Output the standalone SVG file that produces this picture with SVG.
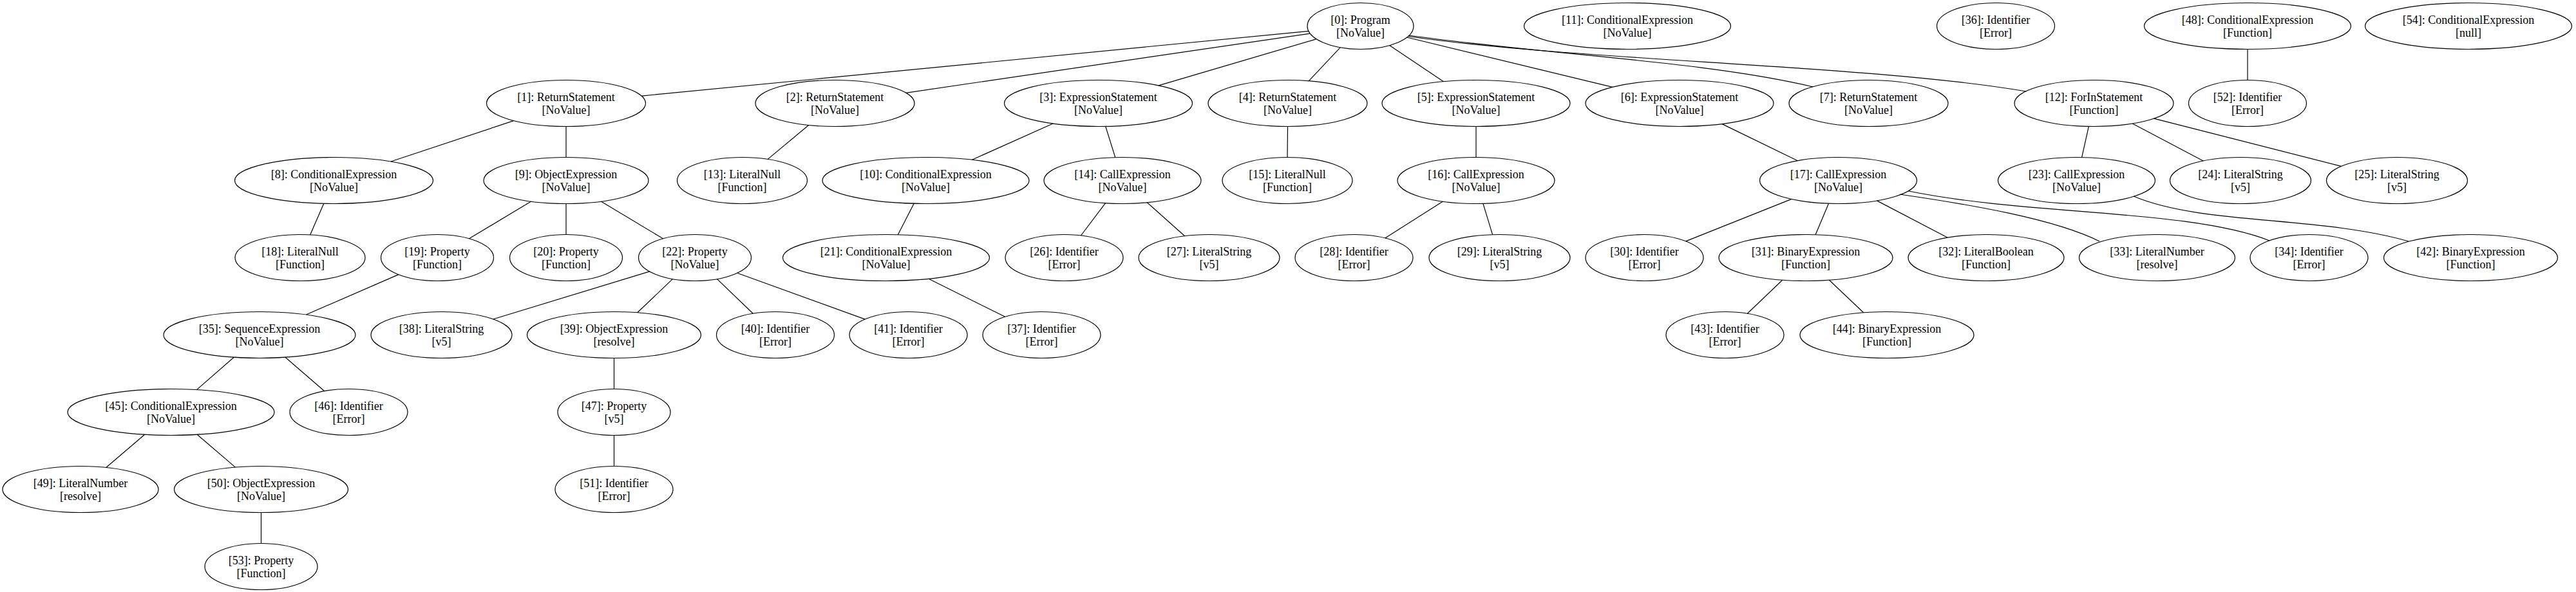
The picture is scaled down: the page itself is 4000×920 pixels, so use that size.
<svg xmlns="http://www.w3.org/2000/svg" width="4000" height="920" viewBox="0 0 4000 920">
<style>
.n ellipse{fill:none;stroke:#000;stroke-width:1.2}
.n text{font-family:"Liberation Serif","Times New Roman",serif;font-size:18px;text-anchor:middle;fill:#000}
#edges line,#edges path{stroke:#000;stroke-width:1.2;fill:none}
</style>
<rect width="4000" height="920" fill="#fff"/>
<g id="edges">
<line x1="2032" y1="48.3" x2="996.2" y2="149.1"/>
<line x1="2034.3" y1="52" x2="1406.8" y2="144.3"/>
<line x1="2044.1" y1="60.7" x2="1799.2" y2="132.9"/>
<line x1="2081.1" y1="73.8" x2="2032.2" y2="125.8"/>
<line x1="2157.6" y1="70.6" x2="2241.5" y2="126.7"/>
<line x1="2184.6" y1="58" x2="2503.8" y2="135.3"/>
<path d="M2188,55 C2400,85 2650,95 2815,135"/>
<path d="M2187,56.5 C2450,95 2900,100 3146,142"/>
<line x1="797.6" y1="187.6" x2="607" y2="251"/>
<line x1="879" y1="196.5" x2="879" y2="244.5"/>
<line x1="1255.7" y1="194.5" x2="1192.2" y2="247.4"/>
<line x1="1635.1" y1="192" x2="1509.4" y2="248.3"/>
<line x1="1716.7" y1="196.4" x2="1731.8" y2="244.7"/>
<line x1="1999.5" y1="196.5" x2="1999" y2="244.5"/>
<line x1="2292" y1="196.5" x2="2292" y2="244.5"/>
<line x1="2674" y1="192.6" x2="2791.3" y2="249.7"/>
<line x1="3243.4" y1="196.4" x2="3232.6" y2="244.6"/>
<line x1="3311.2" y1="192" x2="3421.1" y2="250"/>
<line x1="3344.4" y1="184.2" x2="3635.5" y2="258.4"/>
<line x1="502.8" y1="316.3" x2="481.6" y2="364.9"/>
<line x1="824.7" y1="313.1" x2="728.5" y2="370.8"/>
<line x1="879" y1="316.5" x2="879" y2="364.5"/>
<line x1="933.3" y1="313.1" x2="1029.5" y2="370.8"/>
<line x1="1419.2" y1="316.3" x2="1394.3" y2="364.7"/>
<line x1="1716.5" y1="315.6" x2="1678.5" y2="366"/>
<line x1="1781.3" y1="314.7" x2="1839.6" y2="366.7"/>
<line x1="2240.5" y1="313.1" x2="2150.8" y2="369.9"/>
<line x1="2302.9" y1="316.4" x2="2317.6" y2="364.7"/>
<line x1="2781.9" y1="309.4" x2="2617.8" y2="374.9"/>
<line x1="2839.5" y1="316.2" x2="2819.1" y2="364.7"/>
<line x1="2914.5" y1="311.9" x2="3024.2" y2="369.2"/>
<path d="M2950,302 C3060,318 3190,340 3260,375"/>
<path d="M2964,297 C3150,335 3400,325 3524,374"/>
<path d="M3313,305 C3420,350 3600,335 3740,375"/>
<line x1="2767.7" y1="435.2" x2="2713.3" y2="487.2"/>
<line x1="2840.4" y1="435.2" x2="2893.6" y2="485.8"/>
<line x1="618.9" y1="426.6" x2="475.4" y2="489"/>
<line x1="1008.7" y1="421.9" x2="765.8" y2="496"/>
<line x1="1044.4" y1="433.6" x2="989.8" y2="485.8"/>
<line x1="1113.5" y1="433.6" x2="1169.3" y2="487.2"/>
<line x1="1144.7" y1="424.3" x2="1343.2" y2="496.1"/>
<line x1="1442" y1="433.3" x2="1560.7" y2="492.3"/>
<line x1="363.2" y1="555.2" x2="305.5" y2="605.6"/>
<line x1="443" y1="555.2" x2="503.7" y2="607.7"/>
<line x1="953.5" y1="556.5" x2="953.5" y2="604.5"/>
<line x1="224.7" y1="675.3" x2="164.8" y2="726.5"/>
<line x1="306.1" y1="675.3" x2="365.4" y2="726.1"/>
<line x1="953.5" y1="676.5" x2="953.5" y2="724.5"/>
<line x1="405.5" y1="796.5" x2="405.5" y2="844.5"/>
<line x1="3490" y1="76.5" x2="3490" y2="124.5"/>
</g>
<g id="n0" class="n"><ellipse cx="2112.5" cy="40.5" rx="82.5" ry="36"/><text x="2112.5" y="37">[0]: Program</text><text x="2112.5" y="56.5">[NoValue]</text></g>
<g id="n11" class="n"><ellipse cx="2527" cy="40.5" rx="160.5" ry="36"/><text x="2527" y="37">[11]: ConditionalExpression</text><text x="2527" y="56.5">[NoValue]</text></g>
<g id="n36" class="n"><ellipse cx="3099" cy="40.5" rx="91.5" ry="36"/><text x="3099" y="37">[36]: Identifier</text><text x="3099" y="56.5">[Error]</text></g>
<g id="n48" class="n"><ellipse cx="3490" cy="40.5" rx="160.5" ry="36"/><text x="3490" y="37">[48]: ConditionalExpression</text><text x="3490" y="56.5">[Function]</text></g>
<g id="n54" class="n"><ellipse cx="3833" cy="40.5" rx="160.5" ry="36"/><text x="3833" y="37">[54]: ConditionalExpression</text><text x="3833" y="56.5">[null]</text></g>
<g id="n1" class="n"><ellipse cx="879" cy="160.5" rx="123.5" ry="36"/><text x="879" y="157">[1]: ReturnStatement</text><text x="879" y="176.5">[NoValue]</text></g>
<g id="n2" class="n"><ellipse cx="1296.5" cy="160.5" rx="123.5" ry="36"/><text x="1296.5" y="157">[2]: ReturnStatement</text><text x="1296.5" y="176.5">[NoValue]</text></g>
<g id="n3" class="n"><ellipse cx="1705.5" cy="160.5" rx="146" ry="36"/><text x="1705.5" y="157">[3]: ExpressionStatement</text><text x="1705.5" y="176.5">[NoValue]</text></g>
<g id="n4" class="n"><ellipse cx="1999.5" cy="160.5" rx="123.5" ry="36"/><text x="1999.5" y="157">[4]: ReturnStatement</text><text x="1999.5" y="176.5">[NoValue]</text></g>
<g id="n5" class="n"><ellipse cx="2292" cy="160.5" rx="146" ry="36"/><text x="2292" y="157">[5]: ExpressionStatement</text><text x="2292" y="176.5">[NoValue]</text></g>
<g id="n6" class="n"><ellipse cx="2608" cy="160.5" rx="146" ry="36"/><text x="2608" y="157">[6]: ExpressionStatement</text><text x="2608" y="176.5">[NoValue]</text></g>
<g id="n7" class="n"><ellipse cx="2901.5" cy="160.5" rx="123.5" ry="36"/><text x="2901.5" y="157">[7]: ReturnStatement</text><text x="2901.5" y="176.5">[NoValue]</text></g>
<g id="n12" class="n"><ellipse cx="3251.5" cy="160.5" rx="123.5" ry="36"/><text x="3251.5" y="157">[12]: ForInStatement</text><text x="3251.5" y="176.5">[Function]</text></g>
<g id="n52" class="n"><ellipse cx="3490" cy="160.5" rx="91.5" ry="36"/><text x="3490" y="157">[52]: Identifier</text><text x="3490" y="176.5">[Error]</text></g>
<g id="n8" class="n"><ellipse cx="518.5" cy="280.5" rx="154" ry="36"/><text x="518.5" y="277">[8]: ConditionalExpression</text><text x="518.5" y="296.5">[NoValue]</text></g>
<g id="n9" class="n"><ellipse cx="879" cy="280.5" rx="128" ry="36"/><text x="879" y="277">[9]: ObjectExpression</text><text x="879" y="296.5">[NoValue]</text></g>
<g id="n13" class="n"><ellipse cx="1152.5" cy="280.5" rx="101" ry="36"/><text x="1152.5" y="277">[13]: LiteralNull</text><text x="1152.5" y="296.5">[Function]</text></g>
<g id="n10" class="n"><ellipse cx="1437.5" cy="280.5" rx="160.5" ry="36"/><text x="1437.5" y="277">[10]: ConditionalExpression</text><text x="1437.5" y="296.5">[NoValue]</text></g>
<g id="n14" class="n"><ellipse cx="1743" cy="280.5" rx="122" ry="36"/><text x="1743" y="277">[14]: CallExpression</text><text x="1743" y="296.5">[NoValue]</text></g>
<g id="n15" class="n"><ellipse cx="1999" cy="280.5" rx="101" ry="36"/><text x="1999" y="277">[15]: LiteralNull</text><text x="1999" y="296.5">[Function]</text></g>
<g id="n16" class="n"><ellipse cx="2292" cy="280.5" rx="122" ry="36"/><text x="2292" y="277">[16]: CallExpression</text><text x="2292" y="296.5">[NoValue]</text></g>
<g id="n17" class="n"><ellipse cx="2854.5" cy="280.5" rx="122" ry="36"/><text x="2854.5" y="277">[17]: CallExpression</text><text x="2854.5" y="296.5">[NoValue]</text></g>
<g id="n23" class="n"><ellipse cx="3224.5" cy="280.5" rx="122" ry="36"/><text x="3224.5" y="277">[23]: CallExpression</text><text x="3224.5" y="296.5">[NoValue]</text></g>
<g id="n24" class="n"><ellipse cx="3479" cy="280.5" rx="109.5" ry="36"/><text x="3479" y="277">[24]: LiteralString</text><text x="3479" y="296.5">[v5]</text></g>
<g id="n25" class="n"><ellipse cx="3722" cy="280.5" rx="109.5" ry="36"/><text x="3722" y="277">[25]: LiteralString</text><text x="3722" y="296.5">[v5]</text></g>
<g id="n18" class="n"><ellipse cx="466" cy="400.5" rx="101" ry="36"/><text x="466" y="397">[18]: LiteralNull</text><text x="466" y="416.5">[Function]</text></g>
<g id="n19" class="n"><ellipse cx="679" cy="400.5" rx="87.5" ry="36"/><text x="679" y="397">[19]: Property</text><text x="679" y="416.5">[Function]</text></g>
<g id="n20" class="n"><ellipse cx="879" cy="400.5" rx="87.5" ry="36"/><text x="879" y="397">[20]: Property</text><text x="879" y="416.5">[Function]</text></g>
<g id="n22" class="n"><ellipse cx="1079" cy="400.5" rx="87.5" ry="36"/><text x="1079" y="397">[22]: Property</text><text x="1079" y="416.5">[NoValue]</text></g>
<g id="n21" class="n"><ellipse cx="1376" cy="400.5" rx="160.5" ry="36"/><text x="1376" y="397">[21]: ConditionalExpression</text><text x="1376" y="416.5">[NoValue]</text></g>
<g id="n26" class="n"><ellipse cx="1652.5" cy="400.5" rx="91.5" ry="36"/><text x="1652.5" y="397">[26]: Identifier</text><text x="1652.5" y="416.5">[Error]</text></g>
<g id="n27" class="n"><ellipse cx="1877.5" cy="400.5" rx="109.5" ry="36"/><text x="1877.5" y="397">[27]: LiteralString</text><text x="1877.5" y="416.5">[v5]</text></g>
<g id="n28" class="n"><ellipse cx="2102.5" cy="400.5" rx="91.5" ry="36"/><text x="2102.5" y="397">[28]: Identifier</text><text x="2102.5" y="416.5">[Error]</text></g>
<g id="n29" class="n"><ellipse cx="2328.5" cy="400.5" rx="109.5" ry="36"/><text x="2328.5" y="397">[29]: LiteralString</text><text x="2328.5" y="416.5">[v5]</text></g>
<g id="n30" class="n"><ellipse cx="2553.5" cy="400.5" rx="91.5" ry="36"/><text x="2553.5" y="397">[30]: Identifier</text><text x="2553.5" y="416.5">[Error]</text></g>
<g id="n31" class="n"><ellipse cx="2804" cy="400.5" rx="135" ry="36"/><text x="2804" y="397">[31]: BinaryExpression</text><text x="2804" y="416.5">[Function]</text></g>
<g id="n32" class="n"><ellipse cx="3084" cy="400.5" rx="121" ry="36"/><text x="3084" y="397">[32]: LiteralBoolean</text><text x="3084" y="416.5">[Function]</text></g>
<g id="n33" class="n"><ellipse cx="3349.5" cy="400.5" rx="121" ry="36"/><text x="3349.5" y="397">[33]: LiteralNumber</text><text x="3349.5" y="416.5">[resolve]</text></g>
<g id="n34" class="n"><ellipse cx="3585.5" cy="400.5" rx="91.5" ry="36"/><text x="3585.5" y="397">[34]: Identifier</text><text x="3585.5" y="416.5">[Error]</text></g>
<g id="n42" class="n"><ellipse cx="3836.5" cy="400.5" rx="135" ry="36"/><text x="3836.5" y="397">[42]: BinaryExpression</text><text x="3836.5" y="416.5">[Function]</text></g>
<g id="n35" class="n"><ellipse cx="403" cy="520.5" rx="149" ry="36"/><text x="403" y="517">[35]: SequenceExpression</text><text x="403" y="536.5">[NoValue]</text></g>
<g id="n38" class="n"><ellipse cx="685.5" cy="520.5" rx="109.5" ry="36"/><text x="685.5" y="517">[38]: LiteralString</text><text x="685.5" y="536.5">[v5]</text></g>
<g id="n39" class="n"><ellipse cx="953.5" cy="520.5" rx="135" ry="36"/><text x="953.5" y="517">[39]: ObjectExpression</text><text x="953.5" y="536.5">[resolve]</text></g>
<g id="n40" class="n"><ellipse cx="1204" cy="520.5" rx="91.5" ry="36"/><text x="1204" y="517">[40]: Identifier</text><text x="1204" y="536.5">[Error]</text></g>
<g id="n41" class="n"><ellipse cx="1410.5" cy="520.5" rx="91.5" ry="36"/><text x="1410.5" y="517">[41]: Identifier</text><text x="1410.5" y="536.5">[Error]</text></g>
<g id="n37" class="n"><ellipse cx="1617.5" cy="520.5" rx="91.5" ry="36"/><text x="1617.5" y="517">[37]: Identifier</text><text x="1617.5" y="536.5">[Error]</text></g>
<g id="n43" class="n"><ellipse cx="2678.5" cy="520.5" rx="91.5" ry="36"/><text x="2678.5" y="517">[43]: Identifier</text><text x="2678.5" y="536.5">[Error]</text></g>
<g id="n44" class="n"><ellipse cx="2930" cy="520.5" rx="135" ry="36"/><text x="2930" y="517">[44]: BinaryExpression</text><text x="2930" y="536.5">[Function]</text></g>
<g id="n45" class="n"><ellipse cx="265.5" cy="640.5" rx="160.5" ry="36"/><text x="265.5" y="637">[45]: ConditionalExpression</text><text x="265.5" y="656.5">[NoValue]</text></g>
<g id="n46" class="n"><ellipse cx="541.5" cy="640.5" rx="91.5" ry="36"/><text x="541.5" y="637">[46]: Identifier</text><text x="541.5" y="656.5">[Error]</text></g>
<g id="n47" class="n"><ellipse cx="953.5" cy="640.5" rx="87.5" ry="36"/><text x="953.5" y="637">[47]: Property</text><text x="953.5" y="656.5">[v5]</text></g>
<g id="n49" class="n"><ellipse cx="125" cy="760.5" rx="121" ry="36"/><text x="125" y="757">[49]: LiteralNumber</text><text x="125" y="776.5">[resolve]</text></g>
<g id="n50" class="n"><ellipse cx="405.5" cy="760.5" rx="135" ry="36"/><text x="405.5" y="757">[50]: ObjectExpression</text><text x="405.5" y="776.5">[NoValue]</text></g>
<g id="n51" class="n"><ellipse cx="953.5" cy="760.5" rx="91.5" ry="36"/><text x="953.5" y="757">[51]: Identifier</text><text x="953.5" y="776.5">[Error]</text></g>
<g id="n53" class="n"><ellipse cx="405.5" cy="880.5" rx="87.5" ry="36"/><text x="405.5" y="877">[53]: Property</text><text x="405.5" y="896.5">[Function]</text></g>
</svg>
